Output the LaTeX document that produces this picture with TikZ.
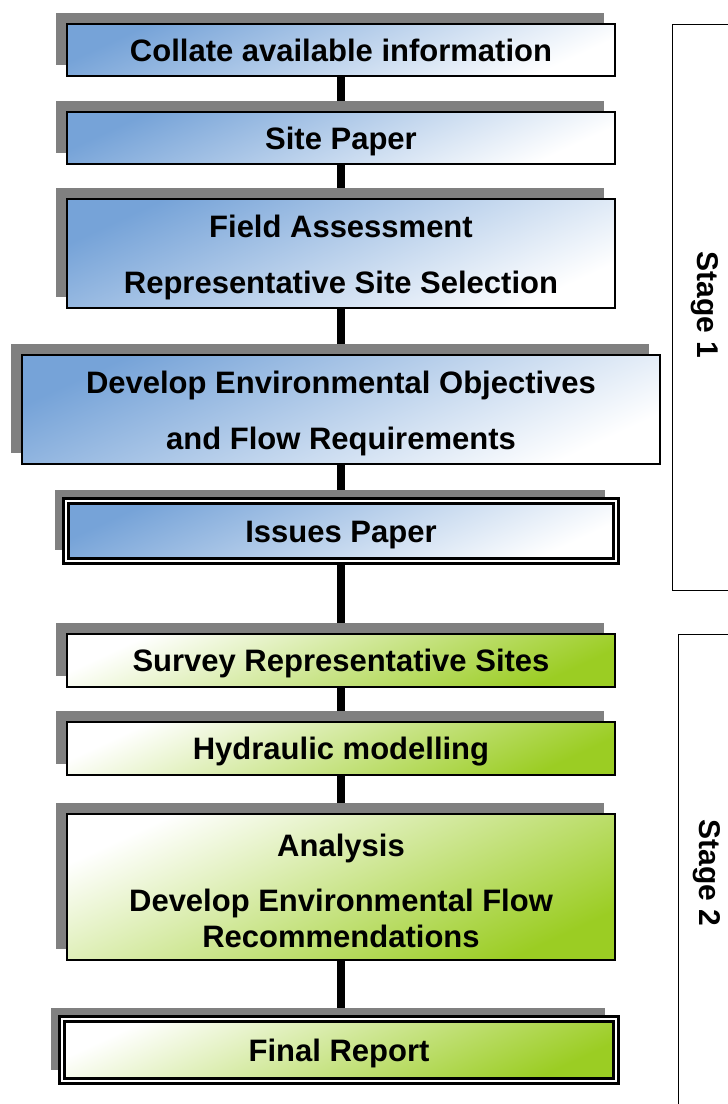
\documentclass[tikz,border=0pt]{standalone}
\usepackage{fontspec}
\setmainfont{Liberation Sans}
\usetikzlibrary{shadows,backgrounds}
\definecolor{bluetop}{RGB}{118,163,216}
\definecolor{greenbot}{RGB}{155,205,35}
\definecolor{shadowgray}{RGB}{128,128,128}
\begin{document}
\begin{tikzpicture}[x=1pt,y=-1pt,
  box/.style={draw=black, line width=1.8pt, minimum width=548pt, align=center,
    font=\bfseries\fontsize{31}{36}\selectfont, inner sep=0pt,
    general shadow={fill=shadowgray, shadow xshift=-11pt, shadow yshift=11pt}},
  oneline/.style={text height=22pt, text depth=0pt},
  bluebox/.style={box, top color=bluetop, bottom color=white, shading angle=25},
  greenbox/.style={box, top color=white, bottom color=greenbot, shading angle=25},
  dbl/.style={double=white, line width=3.2pt, double distance=1.4pt},
  link/.style={line width=8pt, black},
  stagelabel/.style={rotate=-90, font=\bfseries\fontsize{30}{32}\selectfont},
  frame/.style={draw=black, line width=1pt}
]
\useasboundingbox (0,0) rectangle (728,1104);

\node[bluebox, oneline, minimum height=52pt] (n1) at (341,50) {Collate available information};
\node[bluebox, oneline, minimum height=52pt] (n2) at (341,138) {Site Paper};
\node[bluebox, minimum height=109pt] (n3) at (341,253.5) {\rule{0pt}{31pt}Field Assessment\\[20pt]Representative Site Selection};
\node[bluebox, minimum width=638pt, minimum height=109pt] (n4) at (341,409.5) {\rule{0pt}{31pt}Develop Environmental Objectives\\[20pt]and Flow Requirements};
\node[bluebox, dbl, oneline, minimum width=550pt, minimum height=60pt] (n5) at (341,531) {Issues Paper};
\node[greenbox, oneline, minimum height=53pt] (n6) at (341,660.5) {Survey Representative Sites};
\node[greenbox, oneline, minimum height=53pt] (n7) at (341,748.5) {Hydraulic modelling};
\node[greenbox, minimum height=146pt] (n8) at (341,887) {\rule{0pt}{31pt}Analysis\\[19pt]Develop Environmental Flow\\Recommendations};
\node[greenbox, dbl, oneline, minimum width=554pt, minimum height=62pt] (n9) at (339,1050) {Final Report};

\begin{scope}[on background layer]
  \draw[link] (n1.south) -- (n2.north);
  \draw[link] (n2.south) -- (n3.north);
  \draw[link] (n3.south) -- (n4.north);
  \draw[link] (n4.south) -- (n5.north);
  \draw[link] (n5.south) -- (n6.north);
  \draw[link] (n6.south) -- (n7.north);
  \draw[link] (n7.south) -- (n8.north);
  \draw[link] (n8.south) -- (n8.south |- n9.north);
\end{scope}

\draw[frame] (745,24) -- (672,24) -- (672,590) -- (745,590);
\draw[frame] (745,634) -- (678,634) -- (678,1110);
\node[stagelabel] (s1) at (705,305) {Stage 1};
\node[stagelabel] (s2) at (707,873) {Stage 2};
\end{tikzpicture}
\end{document}
